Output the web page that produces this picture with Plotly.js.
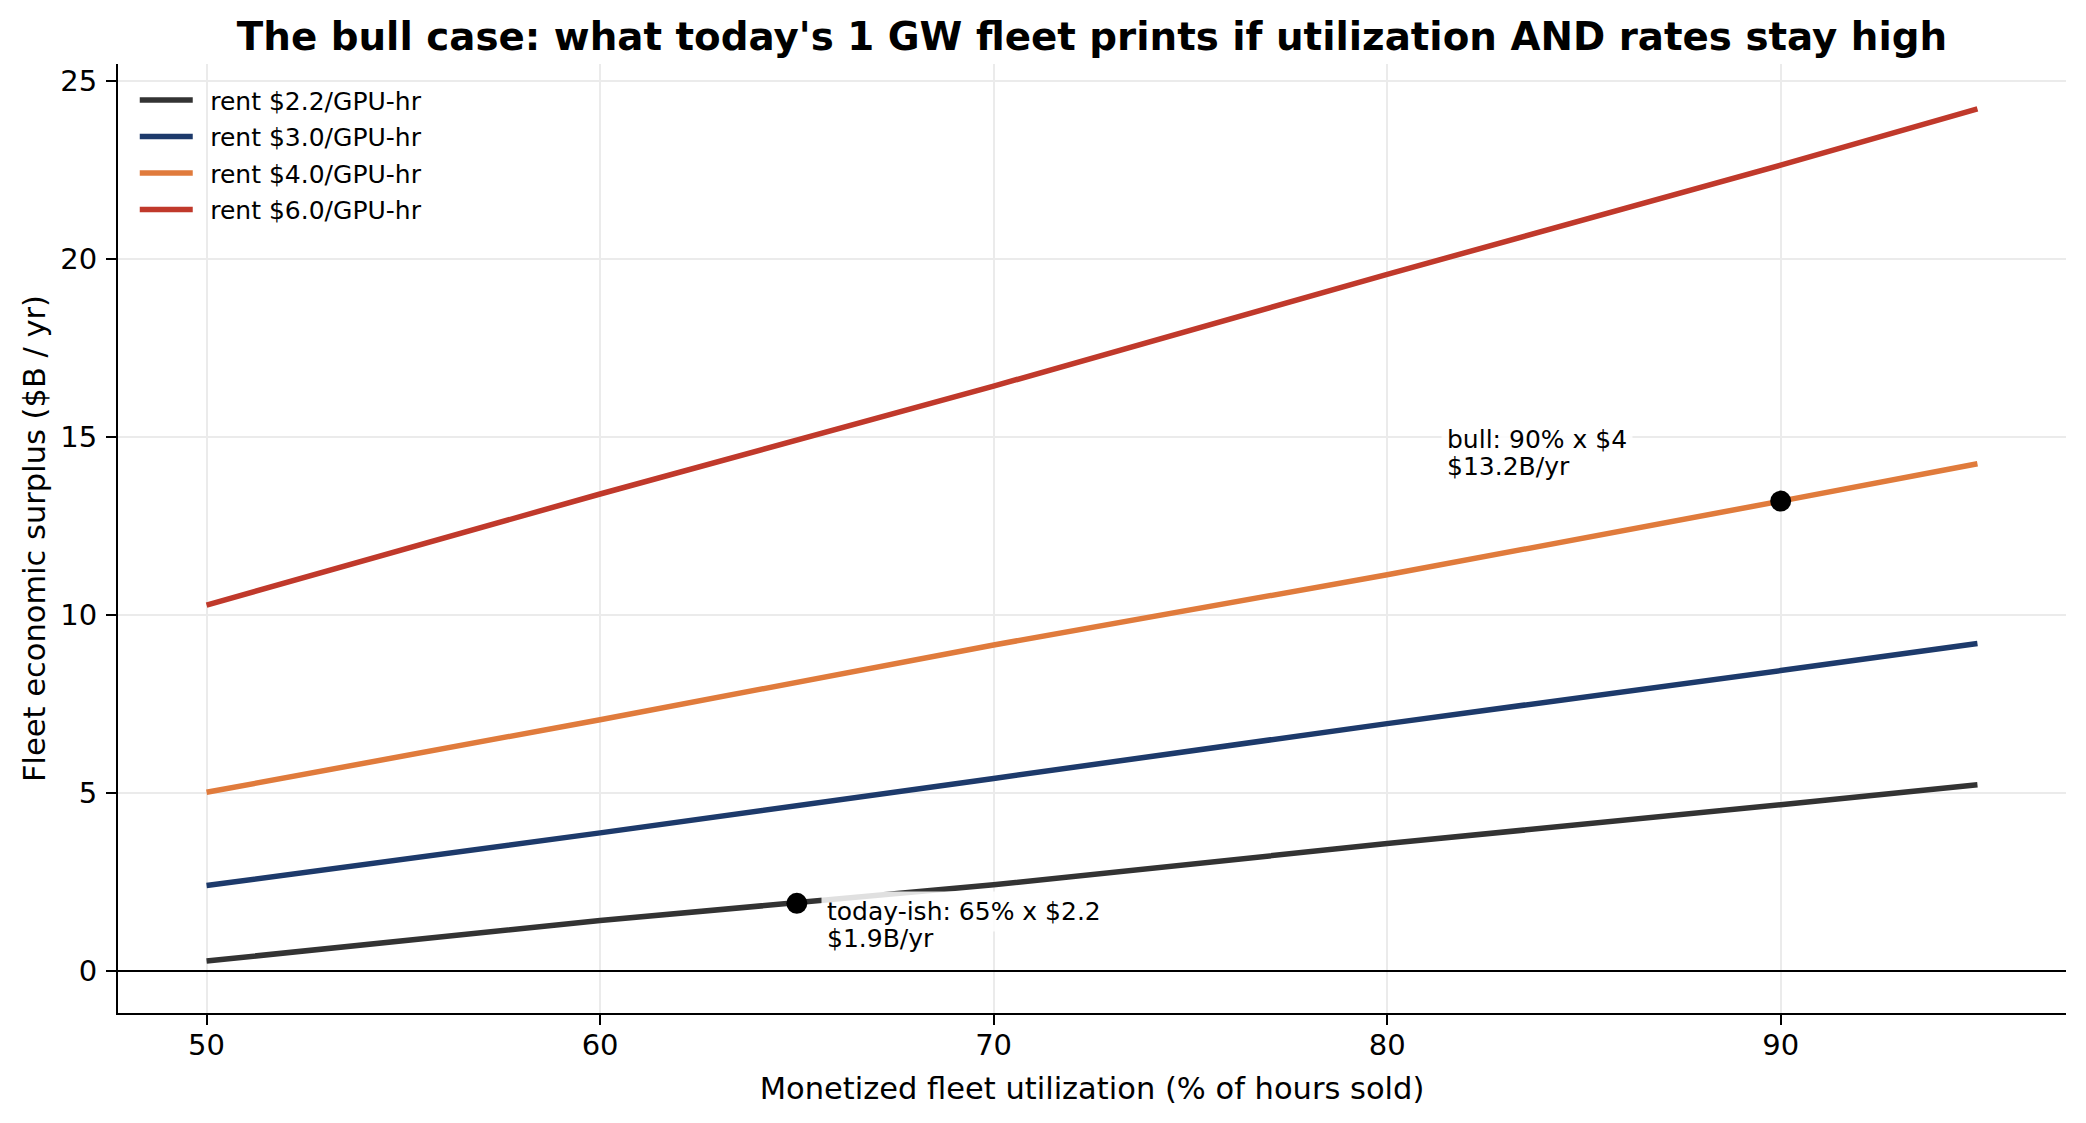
<!DOCTYPE html>
<html>
<head>
<meta charset="utf-8">
<script src="https://cdn.plot.ly/plotly-3.0.1.min.js"></script>
<style>
  html, body { margin: 0; padding: 0; background: #ffffff; }
  #chart { width: 2086px; height: 1123px; }
</style>
</head>
<body>
<div id="chart"></div>
<script>
// Monetized utilization (% of hours sold)
const utilization = [50, 60, 70, 80, 90, 95];

// Fleet economic surplus ($B / yr) at each rental rate
const surplusRent22 = [0.28, 1.42, 2.42, 3.58, 4.67, 5.23];
const surplusRent30 = [2.40, 3.88, 5.41, 6.95, 8.44, 9.20];
const surplusRent40 = [5.02, 7.06, 9.16, 11.13, 13.20, 14.25];
const surplusRent60 = [10.28, 13.40, 16.43, 19.57, 22.64, 24.22];

const seriesNames = ["rent $2.2/GPU-hr", "rent $3.0/GPU-hr", "rent $4.0/GPU-hr", "rent $6.0/GPU-hr"];
const seriesColors = ["#333333", "#1d3a6b", "#e07b3c", "#c0392b"];

// Highlighted scenarios
const todayUtil = 65, todayRent = 2.2, todaySurplus = 1.9;
const bullUtil = 90, bullRent = 4, bullSurplus = 13.2;

const font = "DejaVu Sans, Verdana, sans-serif";

const seriesValues = [surplusRent22, surplusRent30, surplusRent40, surplusRent60];
const traces = seriesValues.map((vals, i) => ({
  type: "scatter",
  mode: "lines",
  x: utilization,
  y: vals,
  name: "\u2002" + seriesNames[i],
  legendgroup: "g" + i,
  line: { color: seriesColors[i], width: 5.5 },
  hoverinfo: "skip"
}));

traces.push({
  type: "scatter",
  mode: "markers",
  x: [todayUtil, bullUtil],
  y: [todaySurplus, bullSurplus],
  marker: { color: "#000000", size: 21 },
  showlegend: false,
  hoverinfo: "skip"
});

// Two-line callouts: the first line carries the translucent white box
function callout(x, y, line1, line2, xshift, yshift1, yshift2) {
  const common = {
    x: x, y: y, xref: "x", yref: "y", showarrow: false,
    xanchor: "left", yanchor: "middle", align: "left",
    font: { size: 25, color: "#000000" }, xshift: xshift
  };
  return [
    Object.assign({}, common, { text: line1, yshift: yshift1, bgcolor: "rgba(255,255,255,0.85)", borderpad: 5 }),
    Object.assign({}, common, { text: line2, yshift: yshift2, borderpad: 5 })
  ];
}

const annotations = [].concat(
  callout(todayUtil, todaySurplus,
    `today-ish: ${todayUtil}% x $${todayRent}`, `$${todaySurplus}B/yr`, 24, -8, -35),
  callout(bullUtil, bullSurplus,
    `bull: ${bullUtil}% x $${bullRent}`, `$${bullSurplus}B/yr`, -340, 62, 35)
);

const layout = {
  width: 2086,
  height: 1123,
  paper_bgcolor: "#ffffff",
  plot_bgcolor: "#ffffff",
  margin: { l: 118, r: 20, t: 64, b: 110 },
  font: { family: font, color: "#000000", size: 29 },
  title: {
    text: "<b>The bull case: what today's 1 GW fleet prints if utilization AND rates stay high</b>",
    font: { family: font, size: 38.8, color: "#000000" },
    x: 0.5, xref: "paper", xanchor: "center",
    y: 1 - 36 / 1123, yref: "container", yanchor: "middle"
  },
  xaxis: {
    range: [47.75, 97.25],
    tickvals: [50, 60, 70, 80, 90],
    ticks: "outside", ticklen: 10, tickwidth: 2, tickcolor: "#000000",
    ticklabelstandoff: -5,
    showline: true, linecolor: "#000000", linewidth: 2, mirror: false,
    showgrid: true, gridcolor: "#ebebeb", gridwidth: 2,
    zeroline: false,
    tickfont: { size: 29 },
    title: { text: "Monetized fleet utilization (% of hours sold)", font: { size: 30.5 }, standoff: 17 }
  },
  yaxis: {
    range: [-1.18, 25.48],
    tickvals: [0, 5, 10, 15, 20, 25],
    ticks: "outside", ticklen: 10, tickwidth: 2, tickcolor: "#000000",
    ticklabelstandoff: 3,
    showline: true, linecolor: "#000000", linewidth: 2, mirror: false,
    showgrid: true, gridcolor: "#ebebeb", gridwidth: 2,
    zeroline: true, zerolinecolor: "#000000", zerolinewidth: 2.5,
    tickfont: { size: 29 },
    title: { text: "Fleet economic surplus ($B / yr)", font: { size: 30.5 }, standoff: 6 }
  },
  showlegend: true,
  legend: {
    x: 0.0086, y: 0.986, xanchor: "left", yanchor: "top",
    bgcolor: "rgba(255,255,255,0)", borderwidth: 0,
    font: { size: 25, color: "#000000" },
    traceorder: "grouped", tracegroupgap: 1,
    itemwidth: 53
  },
  annotations: annotations
};

Plotly.newPlot("chart", traces, layout, { staticPlot: true, displayModeBar: false });
</script>
</body>
</html>
